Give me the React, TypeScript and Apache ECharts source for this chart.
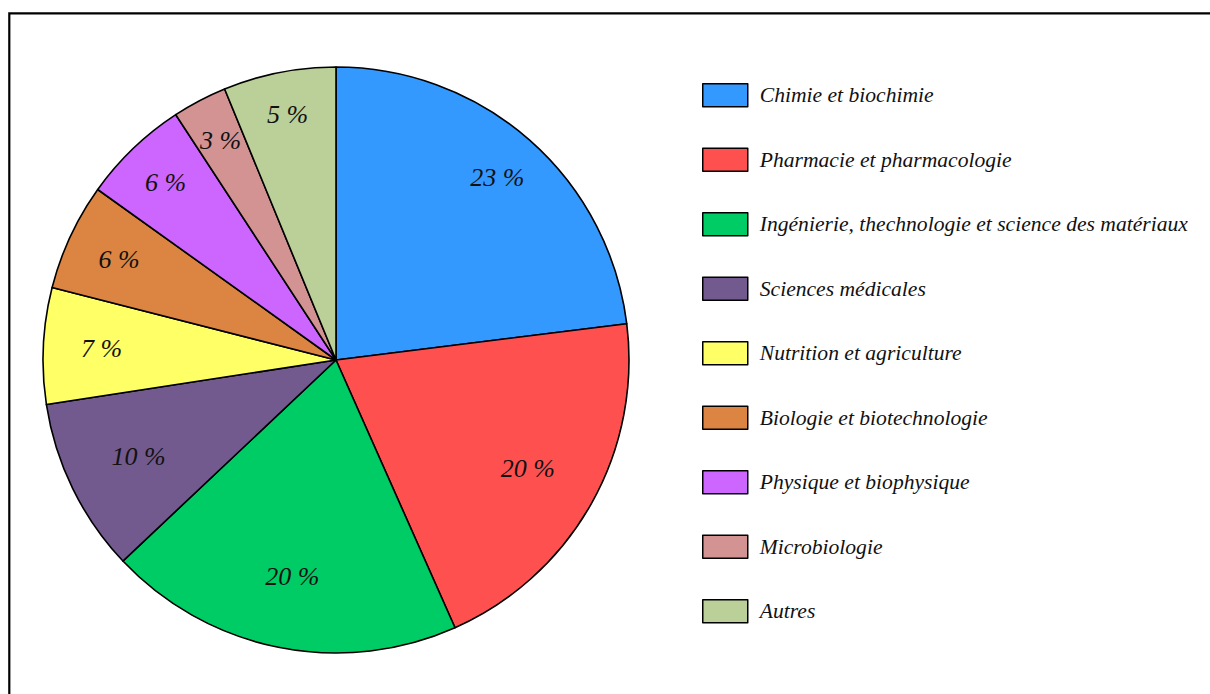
import React, { useEffect, useRef } from "react";
import * as echarts from "echarts";

const categories = [
  "Chimie et biochimie",
  "Pharmacie et pharmacologie",
  "Ingénierie, thechnologie et science des matériaux",
  "Sciences médicales",
  "Nutrition et agriculture",
  "Biologie et biotechnologie",
  "Physique et biophysique",
  "Microbiologie",
  "Autres",
];
// slice shares as drawn (angles)
const shares = [23, 20.3, 19.6, 9.6, 6.4, 5.9, 5.9, 3.0, 6.2];
// percentages printed on the slices
const percentLabels = [23, 20, 20, 10, 7, 6, 6, 3, 5];
const colors = [
  "#3399FF",
  "#FF5050",
  "#00CC66",
  "#725A8F",
  "#FFFF66",
  "#DC8441",
  "#CC66FF",
  "#D39393",
  "#BBCF98",
];
// style: radial position of each slice label (fraction of the radius)
const labelRadius = [0.815, 0.737, 0.74, 0.735, 0.785, 0.8, 0.824, 0.83, 0.838];

const CX = 336;
const CY = 360;
const R = 293;

export default function App() {
  const ref = useRef<HTMLDivElement>(null);
  useEffect(() => {
    if (!ref.current) return;
    const chart = echarts.init(ref.current, undefined, { renderer: "svg" });
    const font = "'Liberation Serif', 'Times New Roman', serif";
    chart.setOption({
      animation: false,
      backgroundColor: "#fff",
      graphic: [
        {
          type: "rect",
          shape: { x: 9.3, y: 13.3, width: 1400, height: 1000 },
          style: { fill: "none", stroke: "#000", lineWidth: 2.2 },
          silent: true,
        },
      ],
      legend: {
        orient: "vertical",
        left: 702,
        top: 83,
        padding: 0,
        itemWidth: 45,
        itemHeight: 23,
        itemGap: 40,
        icon: "rect",
        selectedMode: false,
        itemStyle: { borderColor: "#000", borderWidth: 1.5 },
        textStyle: {
          fontFamily: font,
          fontStyle: "italic",
          fontSize: 21.6,
          color: "#111",
          lineHeight: 23,
          padding: [0, 0, 0, 7],
        },
        data: categories,
      },
      series: [
        {
          type: "pie",
          center: [CX, CY],
          radius: [0, R],
          startAngle: 90,
          clockwise: true,
          avoidLabelOverlap: false,
          silent: true,
          itemStyle: { borderColor: "#000", borderWidth: 1.6 },
          label: {
            show: true,
            position: "inside",
            fontFamily: font,
            fontStyle: "italic",
            fontSize: 26,
            color: "#111",
            formatter: (p: any) => percentLabels[p.dataIndex] + " %",
          },
          labelLine: { show: false },
          labelLayout: (p: any) => {
            const lx = p.labelRect.x + p.labelRect.width / 2;
            const ly = p.labelRect.y + p.labelRect.height / 2;
            const k = labelRadius[p.dataIndex] / 0.5 - 1;
            return { dx: (lx - CX) * k, dy: (ly - CY) * k };
          },
          data: categories.map((c, i) => ({
            name: c,
            value: shares[i],
            itemStyle: { color: colors[i] },
          })),
        },
      ],
    });
    return () => chart.dispose();
  }, []);
  return (
    <div
      ref={ref}
      style={{ position: "fixed", left: 0, top: 0, width: 1210, height: 694 }}
    />
  );
}
